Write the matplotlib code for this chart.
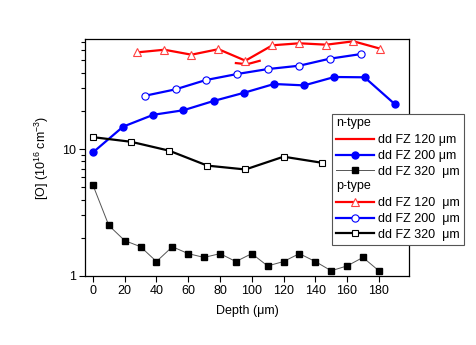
import matplotlib
matplotlib.use("Agg")
import matplotlib.pyplot as plt
from matplotlib.lines import Line2D
from matplotlib.text import Text
from matplotlib.legend_handler import HandlerBase
from matplotlib.ticker import LogLocator, NullFormatter, FixedLocator, FixedFormatter

plt.rcParams['font.family'] = ['Liberation Sans', 'DejaVu Sans']
plt.rcParams['font.size'] = 9
plt.rcParams['mathtext.fontset'] = 'custom'
plt.rcParams['mathtext.rm'] = 'Liberation Sans'
plt.rcParams['mathtext.it'] = 'Liberation Sans'

# n-type dd FZ 120 um (line only, short segment)
n120_x = [90, 97, 105]
n120_y = [47.5, 46.5, 49.5]
# n-type dd FZ 200 um
n200_x = [0, 19, 38, 57, 76, 95, 114, 133, 152, 171, 190]
n200_y = [9.4, 15.0, 18.6, 20.2, 23.9, 27.7, 32.5, 31.7, 36.9, 36.7, 22.6]
# n-type dd FZ 320 um
n320_x = [0, 10, 20, 30, 40, 50, 60, 70, 80, 90, 100, 110, 120, 130, 140, 150, 160, 170, 180]
n320_y = [5.2, 2.5, 1.9, 1.7, 1.3, 1.7, 1.5, 1.4, 1.5, 1.3, 1.5, 1.2, 1.3, 1.5, 1.3, 1.1, 1.2, 1.4, 1.1]
# p-type dd FZ 120 um
p120_x = [28, 45, 62, 79, 96, 113, 130, 147, 164, 181]
p120_y = [57.7, 60.5, 55.3, 61.1, 49.6, 65.6, 68.0, 66.3, 70.5, 61.6]
# p-type dd FZ 200 um
p200_x = [33, 52, 71, 91, 110, 130, 149, 169]
p200_y = [26.3, 29.5, 34.9, 39.0, 42.6, 45.3, 51.4, 56.0]
# p-type dd FZ 320 um
p320_x = [0, 24, 48, 72, 96, 120, 144]
p320_y = [12.4, 11.4, 9.7, 7.4, 6.9, 8.7, 7.8]

xticks = [0, 20, 40, 60, 80, 100, 120, 140, 160, 180]
yticks = [1, 10]
ytick_labels = ['1', '10']

labels = ['dd FZ 120 \u03bcm', 'dd FZ 200 \u03bcm', 'dd FZ 320  \u03bcm',
          'dd FZ 120  \u03bcm', 'dd FZ 200  \u03bcm', 'dd FZ 320  \u03bcm']

fig = plt.figure(figsize=(4.76, 3.45), dpi=100)
ax = fig.add_axes([85/476, 1 - 276/345, (409 - 85)/476, (276 - 39)/345])

RED = '#ff0000'
BLUE = '#0000ff'

l1, = ax.plot(n120_x, n120_y, color=RED, lw=1.6, label=labels[0])
l2, = ax.plot(n200_x, n200_y, color=BLUE, lw=1.6, marker='o', ms=5, mfc=BLUE, mec=BLUE, label=labels[1])
l3, = ax.plot(n320_x, n320_y, color='#555555', lw=0.7, marker='s', ms=4.2, mfc='black', mec='black', label=labels[2])
l4, = ax.plot(p120_x, p120_y, color=RED, lw=1.6, marker='^', ms=6, mfc='white', mec='#ff4040', mew=0.8, label=labels[3])
l5, = ax.plot(p200_x, p200_y, color=BLUE, lw=1.6, marker='o', ms=5.2, mfc='white', mec=BLUE, mew=0.8, label=labels[4])
l6, = ax.plot(p320_x, p320_y, color='black', lw=1.6, marker='s', ms=4.5, mfc='white', mec='black', mew=0.8, label=labels[5])

ax.set_yscale('log')
ax.set_xlim(-5, 199)
ax.set_ylim(1, 73.5)
ax.xaxis.set_major_locator(FixedLocator(xticks))
ax.yaxis.set_major_locator(FixedLocator(yticks))
ax.yaxis.set_major_formatter(FixedFormatter(ytick_labels))
ax.yaxis.set_minor_locator(LogLocator(base=10, subs=range(2, 10)))
ax.yaxis.set_minor_formatter(NullFormatter())
ax.tick_params(which='major', direction='out', length=4.5, width=0.8, labelsize=9, pad=2)
ax.tick_params(which='minor', direction='out', length=3, width=0.8)
for s in ax.spines.values():
    s.set_linewidth(0.9)

ax.set_xlabel('Depth (\u03bcm)', fontsize=9, labelpad=6)
ax.set_ylabel('[O] (10$^{16}$ cm$^{-3}$)', fontsize=9, labelpad=8)


class Header:
    def __init__(self, text):
        self.text = text


class HeaderHandler(HandlerBase):
    def create_artists(self, legend, orig_handle, xdescent, ydescent, width, height, fontsize, trans):
        t = Text(-xdescent, -ydescent + height / 2.0, orig_handle.text,
                 fontsize=fontsize, va='center', ha='left', family=['Liberation Sans', 'DejaVu Sans'])
        t.set_transform(trans)
        return [t]


handles = [Header('n-type'), l1, l2, l3, Header('p-type'), l4, l5, l6]
leg_labels = ['', labels[0], labels[1], labels[2], '', labels[3], labels[4], labels[5]]
leg = fig.legend(handles, leg_labels, handler_map={Header: HeaderHandler()},
                 loc='upper left', bbox_to_anchor=(332/476, 1 - 114/345),
                 bbox_transform=fig.transFigure, fontsize=9, frameon=True, fancybox=False,
                 framealpha=1, edgecolor='#555555', borderaxespad=0, borderpad=0.35,
                 labelspacing=0.3, handlelength=3.0, handletextpad=0.3, numpoints=1)
leg.get_frame().set_linewidth(0.8)

fig.savefig('out.png', dpi=100)
